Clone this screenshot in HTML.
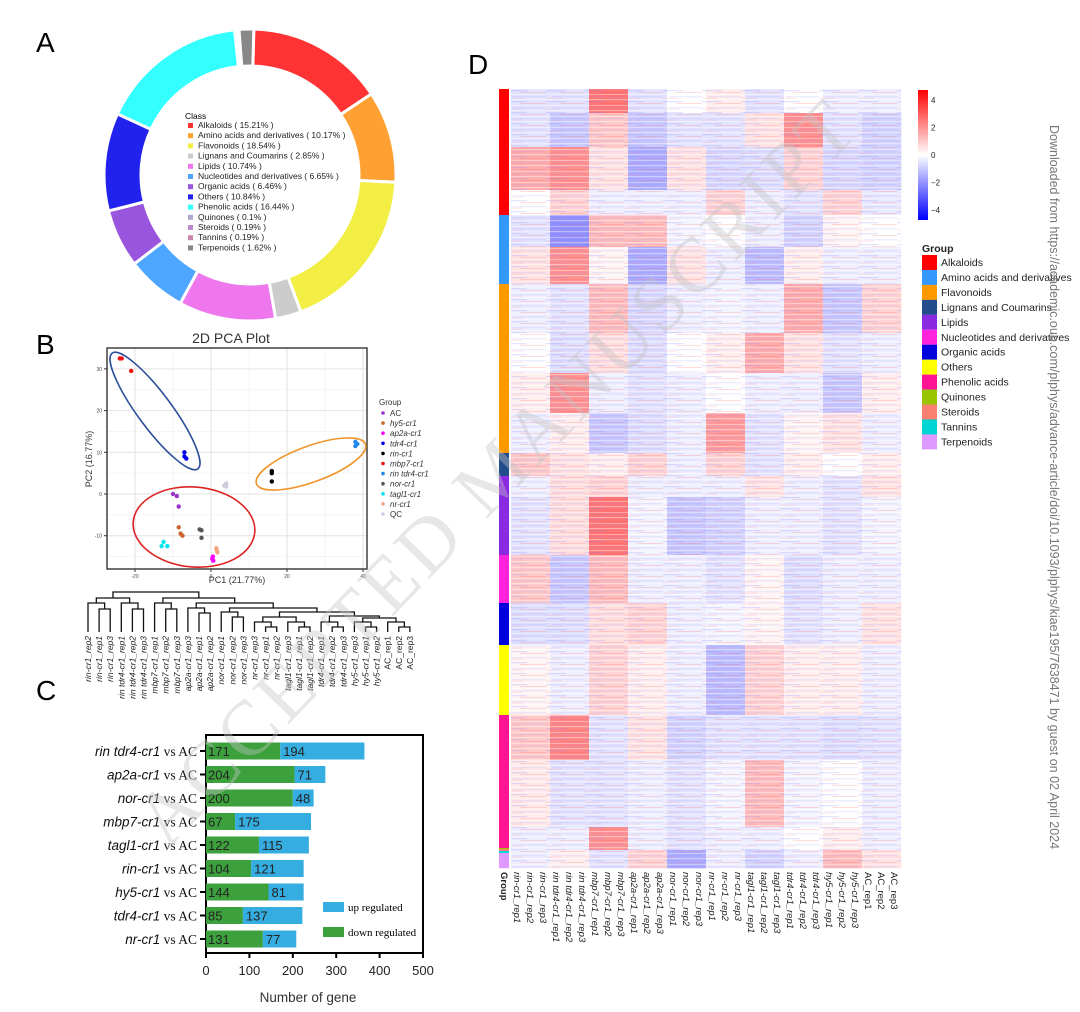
<!DOCTYPE html>
<html><head><meta charset="utf-8"><style>
html,body{margin:0;padding:0;background:#fff;}
svg{display:block;font-family:"Liberation Sans",sans-serif;}
</style></head><body>
<svg id="fig" width="1080" height="1012" viewBox="0 0 1080 1012" xmlns="http://www.w3.org/2000/svg">
<defs>
<pattern id="stripes" width="39" height="11" patternUnits="userSpaceOnUse">
<rect x="0" y="0" width="39" height="1.2" fill="#fff" opacity="0.4"/>
<rect x="0" y="2" width="20" height="1.3" fill="#7777ff" opacity="0.2"/>
<rect x="13" y="4" width="26" height="1" fill="#ff5555" opacity="0.2"/>
<rect x="0" y="6" width="39" height="1" fill="#fff" opacity="0.35"/>
<rect x="6" y="8" width="33" height="1.4" fill="#8888ff" opacity="0.15"/>
<rect x="0" y="9.6" width="16" height="1" fill="#ff7777" opacity="0.18"/>
</pattern>
</defs>
<g id="panelA"></g>
<g id="panelB"></g>
<g id="dendro"></g>
<g id="panelC"></g>
<g id="panelD"></g>
<text x="36" y="52" font-size="28">A</text>
<text x="36" y="354" font-size="28">B</text>
<text x="36" y="700" font-size="28">C</text>
<text x="468" y="74" font-size="28">D</text>
<text transform="translate(1050,125) rotate(90)" font-size="12.5" fill="#777">Downloaded from https://academic.oup.com/plphys/advance-article/doi/10.1093/plphys/kiae195/7638471 by guest on 02 April 2024</text>
<text transform="translate(515,490) rotate(-46)" text-anchor="middle" font-family="Liberation Serif, serif" font-size="78" fill="#c4c4c4" opacity="0.4" letter-spacing="4">ACCEPTED MANUSCRIPT</text>
</svg>
<script>
const NS="http://www.w3.org/2000/svg";
function mk(parent,tag,attrs,text){const e=document.createElementNS(NS,tag);for(const k in attrs)e.setAttribute(k,attrs[k]);if(text!==undefined)e.textContent=text;parent.appendChild(e);return e;}

/* ---------- Panel A data ---------- */
const donutClasses=["Alkaloids","Amino acids and derivatives","Flavonoids","Lignans and Coumarins","Lipids","Nucleotides and derivatives","Organic acids","Others","Phenolic acids","Quinones","Steroids","Tannins","Terpenoids"];
const donutPct=[15.21,10.17,18.54,2.85,10.74,6.65,6.46,10.84,16.44,0.1,0.19,0.19,1.62];
const donutColors=["#ff3333","#ffa033","#f2ee44","#cccccc","#ee77ee","#4da6ff","#9955dd","#2222ee","#33ffff","#aaaacc","#bb88cc","#cc88aa","#888888"];

(function(){
const g=document.getElementById('panelA');
const cx=250,cy=175,R=146,r=109;const total=donutPct.reduce((a,b)=>a+b,0);
let a0=1.5*Math.PI/180;
donutPct.forEach((p,i)=>{
 const a1=a0+p/total*2*Math.PI;
 const pt=(rad,a)=>[cx+rad*Math.sin(a),cy-rad*Math.cos(a)];
 const [x1,y1]=pt(R,a0),[x2,y2]=pt(R,a1),[x3,y3]=pt(r,a1),[x4,y4]=pt(r,a0);
 const lg=(a1-a0)>Math.PI?1:0;
 const s=mk(g,'path',{d:`M${x1},${y1}A${R},${R} 0 ${lg} 1 ${x2},${y2}L${x3},${y3}A${r},${r} 0 ${lg} 0 ${x4},${y4}Z`,fill:donutColors[i],stroke:'#fff','stroke-width':3});
 
 
 a0=a1;
});
const t=mk(g,'text',{x:185,y:119,'font-size':8.5},'Class');


donutClasses.forEach((c,i)=>{
 const y=128+i*10.2;
 const le=mk(g,'g',{});
 
 
 mk(le,'rect',{x:188,y:y-5,width:5,height:5,fill:donutColors[i]});
 mk(le,'text',{x:198,y:y,'font-size':8.5,fill:'#222'},c+' ( '+donutPct[i]+'% )');
});
})();

/* ---------- Panel B PCA data ---------- */
const pcaGroups=["AC","hy5-cr1","ap2a-cr1","tdr4-cr1","rin-cr1","mbp7-cr1","rin tdr4-cr1","nor-cr1","tagl1-cr1","nr-cr1","QC"];
const pcaColors=["#9933cc","#c8642a","#ff00ff","#0000ee","#000000","#ee1111","#2288ee","#555555","#00e5ee","#f4a582","#ccccdd"];
const pcaPC1=[[-10,-9,-8.5],[-8.5,-8,-7.5],[0.5,0.6,0.3],[-7,-7,-6.5],[16,16,16],[-24,-23.5,-21],[38,38,38.5],[-3,-2.5,-2.5],[-12.5,-13,-11.5],[1.5,1.7,1.4],[4,3.5,4]];
const pcaPC2=[[0,-0.5,-3],[-8,-9.5,-10],[-15,-16,-15.5],[10,9,8.5],[5.5,5,3],[32.5,32.5,29.5],[12.5,11.5,12],[-8.5,-8.7,-10.5],[-11.5,-12.5,-12.5],[-13.5,-14,-13],[2.5,2,1.8]];
const pcaXTicks=[-20,0,20,40];
const pcaYTicks=[-10,0,10,20,30];

(function(){
const g=document.getElementById('panelB');
const X=v=>211+v*3.8, Y=v=>494-v*4.17;
const x0=107,x1=367,y0=348,y1=569;
mk(g,'text',{x:231,y:343,'font-size':14,'text-anchor':'middle',fill:'#333'},'2D PCA Plot');
for(let v=-30;v<=45;v+=10){const x=X(v);if(x>x0&&x<x1)mk(g,'line',{x1:x,x2:x,y1:y0,y2:y1,stroke:pcaXTicks.includes(v)?'#e2e2e2':'#efefef','stroke-width':pcaXTicks.includes(v)?1:0.6});}
for(let v=-15;v<=35;v+=5){const y=Y(v);if(y>y0&&y<y1)mk(g,'line',{x1:x0,x2:x1,y1:y,y2:y,stroke:pcaYTicks.includes(v)?'#e2e2e2':'#efefef','stroke-width':pcaYTicks.includes(v)?1:0.6});}
const fr=mk(g,'rect',{x:x0,y:y0,width:x1-x0,height:y1-y0,fill:'none',stroke:'#333','stroke-width':1.4});


pcaXTicks.forEach(v=>{mk(g,'line',{x1:X(v),x2:X(v),y1:y1,y2:y1+3,stroke:'#333'});const t=mk(g,'text',{x:X(v),y:y1+9,'font-size':5,'text-anchor':'middle',fill:'#444'},v);});
pcaYTicks.forEach(v=>{mk(g,'line',{x1:x0-3,x2:x0,y1:Y(v),y2:Y(v),stroke:'#333'});const t=mk(g,'text',{x:x0-5,y:Y(v)+2,'font-size':5,'text-anchor':'end',fill:'#444'},v);});
const xt=mk(g,'text',{x:237,y:583,'font-size':9,'text-anchor':'middle',fill:'#333'},'PC1 (21.77%)');


const yt=mk(g,'text',{transform:'translate(92,459) rotate(-90)','font-size':9,'text-anchor':'middle',fill:'#333'},'PC2 (16.77%)');


const e1=mk(g,'ellipse',{cx:155,cy:411,rx:72,ry:17,transform:'rotate(53.5 155 411)',fill:'none',stroke:'#2b4f9a','stroke-width':1.6});


const e2=mk(g,'ellipse',{cx:194,cy:527,rx:61,ry:40,transform:'rotate(5 194 527)',fill:'none',stroke:'#dd2222','stroke-width':1.6});


const e3=mk(g,'ellipse',{cx:311,cy:464,rx:58,ry:18,transform:'rotate(-20 311 464)',fill:'none',stroke:'#f0952a','stroke-width':1.6});


pcaGroups.forEach((gn,i)=>{
 pcaPC1[i].forEach((v,j)=>{
  const c=mk(g,'circle',{cx:X(v),cy:Y(pcaPC2[i][j]),r:2.2,fill:pcaColors[i]});
  
  
 });
 const le=mk(g,'g',{});
 
 
 const y=413+i*10.1;
 mk(le,'circle',{cx:383,cy:y,r:1.8,fill:pcaColors[i]});
 mk(le,'text',{x:390,y:y+3,'font-size':8,'font-style':(gn==='AC'||gn==='QC')?'normal':'italic',fill:'#333'},gn);
});
mk(g,'text',{x:379,y:405,'font-size':8,fill:'#333'},'Group');
})();

/* ---------- Dendrogram ---------- */
const leafLabels=["rin-cr1_rep2","rin-cr1_rep1","rin-cr1_rep3","rin tdr4-cr1_rep1","rin tdr4-cr1_rep2","rin tdr4-cr1_rep3","mbp7-cr1_rep1","mbp7-cr1_rep2","mbp7-cr1_rep3","ap2a-cr1_rep3","ap2a-cr1_rep1","ap2a-cr1_rep2","nor-cr1_rep1","nor-cr1_rep2","nor-cr1_rep3","nr-cr1_rep3","nr-cr1_rep1","nr-cr1_rep2","tagl1-cr1_rep3","tagl1-cr1_rep1","tagl1-cr1_rep2","tdr4-cr1_rep1","tdr4-cr1_rep2","tdr4-cr1_rep3","hy5-cr1_rep3","hy5-cr1_rep1","hy5-cr1_rep2","AC_rep1","AC_rep2","AC_rep3"];
const P=(a,b,h)=>({c:[a,b],h});
const tree=P(
 P(P(0,P(1,2,23),29),P(3,P(4,5,23),29),34),
 P(P(6,P(7,8,23),29),
  P(P(9,P(10,11,19),24),
   P(P(12,P(13,14,15),20),
    P(P(P(15,P(16,17,5),10),P(18,P(19,20,5),10),15),
      P(P(21,P(22,23,5),10),P(P(24,P(25,26,5),10),P(27,P(28,29,5),10),14),16),20),24),29),34),40);
(function(){
const g=document.getElementById('dendro');
const LX=i=>88+i*11.1, base=632, HY=h=>base-h;
function draw(n){
 if(typeof n==='number')return {x:LX(n),y:base};
 const a=draw(n.c[0]),b=draw(n.c[1]);const y=HY(n.h);
 const p=mk(g,'path',{d:`M${a.x},${a.y}V${y}H${b.x}V${b.y}`,fill:'none',stroke:'#111','stroke-width':1.3});
 
 
 return {x:(a.x+b.x)/2,y};
}
draw(tree);
leafLabels.forEach((l,i)=>{
 const t=mk(g,'text',{transform:`translate(${LX(i)+3},636) rotate(-90)`,'text-anchor':'end','font-size':8.5,'font-style':l.startsWith('AC')?'normal':'italic',fill:'#222'},l);
 
 
});
})();

/* ---------- Panel C data ---------- */
const cmpLabels=["rin tdr4-cr1","ap2a-cr1","nor-cr1","mbp7-cr1","tagl1-cr1","rin-cr1","hy5-cr1","tdr4-cr1","nr-cr1"];
const downVals=[171,204,200,67,122,104,144,85,131];
const upVals=[194,71,48,175,115,121,81,137,77];
const cTicks=[0,100,200,300,400,500];
(function(){
const g=document.getElementById('panelC');
const X=v=>206+v*0.434; const Yc=i=>751+i*23.5;
const ax=mk(g,'rect',{x:206,y:735,width:217,height:218,fill:'none',stroke:'#000','stroke-width':2});


cmpLabels.forEach((l,i)=>{
 const y=Yc(i);
 const d=mk(g,'rect',{x:X(0),y:y-8.5,width:X(downVals[i])-X(0),height:17,fill:'#3ca13c'});
 
 
 const u=mk(g,'rect',{x:X(downVals[i]),y:y-8.5,width:X(downVals[i]+upVals[i])-X(downVals[i]),height:17,fill:'#35ade0'});
 
 
 mk(g,'text',{x:208,y:y+5,'font-size':13,fill:'#222'},downVals[i]);
 mk(g,'text',{x:X(downVals[i])+3,y:y+5,'font-size':13,fill:'#222'},upVals[i]);
 mk(g,'line',{x1:200,x2:206,y1:y,y2:y,stroke:'#000','stroke-width':2});
 const t=mk(g,'text',{x:197,y:y+5,'text-anchor':'end','font-size':13.5,fill:'#111'});
 
 
 mk(t,'tspan',{'font-style':'italic'},l);
 mk(t,'tspan',{'font-family':'Liberation Serif, serif'},' vs AC');
});
cTicks.forEach(v=>{
 mk(g,'line',{x1:X(v),x2:X(v),y1:953,y2:958,stroke:'#000','stroke-width':2});
 const t=mk(g,'text',{x:X(v),y:975,'text-anchor':'middle','font-size':13,fill:'#222'},v);
 
 
});
const xt=mk(g,'text',{x:308,y:1002,'text-anchor':'middle','font-size':13.5,fill:'#333'},'Number of gene');


const l1=mk(g,'g',{});
mk(l1,'rect',{x:323,y:902,width:21,height:10,fill:'#35ade0'});
mk(l1,'text',{x:348,y:911,'font-size':11,'font-family':'Liberation Serif, serif'},'up regulated');
const l2=mk(g,'g',{});
mk(l2,'rect',{x:323,y:927,width:21,height:10,fill:'#3ca13c'});
mk(l2,'text',{x:348,y:936,'font-size':11,'font-family':'Liberation Serif, serif'},'down regulated');
})();

/* ---------- Panel D data ---------- */
const sampleGroups=["rin-cr1","rin tdr4-cr1","mbp7-cr1","ap2a-cr1","nor-cr1","nr-cr1","tagl1-cr1","tdr4-cr1","hy5-cr1","AC"];
const hmClassNames=["Alkaloids","Amino acids and derivatives","Flavonoids","Lignans and Coumarins","Lipids","Nucleotides and derivatives","Organic acids","Others","Phenolic acids","Quinones","Steroids","Tannins","Terpenoids"];
const hmClassColors=["#ff0000","#3399ff","#ff9900","#224c8c","#8a2be2","#ff22dd","#0000dd","#ffff00","#ff1493","#99c400","#fa8072","#00d5d5","#dd99ff"];
const hmClassRows=[126,69,169,23,79,48,42,70,133,1,2,2,15];
const bandRows=[24,34,43,25,32,37,49,40,40,40,23,21,58,48,42,70,45,67,23,18];
const bandVals=[
[-0.5,-0.5,2.5,-0.5,0,0.3,-0.5,0,-0.3,-0.3],
[-0.5,-1,1,-1,-0.5,-0.5,0.5,2,-0.5,-0.8],
[1.5,2,0.5,-1.5,0.5,-0.7,-0.6,0.8,-0.7,-0.8],
[0,0.8,-0.3,-0.3,-0.3,0.8,-0.3,-0.5,0.8,-0.4],
[-0.5,-2,1.2,1.2,-0.2,0,-0.3,-0.8,0.2,0],
[0.5,2,0.2,-1.5,0.5,-0.3,-1.2,0.3,-0.3,-0.3],
[-0.3,-0.5,1.2,-0.7,-0.3,-0.2,-0.3,1.5,-1,0.8],
[0,-0.6,0.6,-0.6,0,0.3,1.5,0.5,-0.5,-0.3],
[0.3,2,-0.3,-0.5,-0.3,0,-0.3,-0.3,-1,0.3],
[-0.3,0.3,-1,-0.6,-0.3,1.8,-0.5,0.2,0.5,-0.3],
[1,0.5,0.3,0.8,-0.3,0.8,-0.5,0.3,0,0.3],
[-0.3,0.6,0.8,-0.3,-0.3,-0.3,0.5,-0.3,-0.5,0.5],
[-0.5,0.6,2.5,-0.2,-1,-0.8,-0.3,-0.3,-0.5,-0.2],
[1,-1,1.2,-0.3,-0.3,-0.5,0.2,-0.6,-0.3,-0.3],
[-0.6,-0.6,0.6,0.8,-0.3,-0.2,0.2,-0.5,-0.3,0.5],
[0.2,-0.3,0.8,0.3,-0.3,-1.2,0.8,0.3,0.3,-0.3],
[1,2.2,-0.5,0.5,-0.8,-0.5,-0.5,-0.5,-0.6,-0.5],
[0.4,-0.5,-0.5,-0.3,-0.5,-0.2,1.2,-0.2,0,-0.3],
[-0.3,-0.3,2,-0.3,-0.5,-0.3,-0.3,0,0.3,-0.3],
[-0.3,0.3,-0.5,0.8,-1.5,-0.3,-0.8,-0.3,1.2,0.5]];
const cbTicks=[4,2,0,-2,-4];
(function(){
const g=document.getElementById('panelD');
const top=89,bot=868,left=511,colW=13,nCols=30;
const totalRows=bandRows.reduce((a,b)=>a+b,0);
const rowH=(bot-top)/totalRows;
const color=v=>{const t=Math.min(1,Math.abs(v)/4.6);const c=Math.round(255*(1-t));return v>=0?`rgb(255,${c},${c})`:`rgb(${c},${c},255)`;};
let y=top;
bandRows.forEach((n,b)=>{
 const h=n*rowH;
 for(let c=0;c<nCols;c++){
  const gi=Math.floor(c/3);
  const r=mk(g,'rect',{x:left+c*colW,y:y,width:colW+0.3,height:h+0.3,fill:color(bandVals[b][gi])});
  
  
 }
 y+=h;
});
const tex=mk(g,'rect',{x:left,y:top,width:nCols*colW,height:bot-top,fill:'url(#stripes)'});


const clsTotal=hmClassRows.reduce((a,b)=>a+b,0);
let yy=top;
hmClassRows.forEach((n,i)=>{
 const h=n/clsTotal*(bot-top);
 const r=mk(g,'rect',{x:499,y:yy,width:10,height:h+0.2,fill:hmClassColors[i]});
 
 
 yy+=h;
});
const gl=mk(g,'text',{transform:'translate(501,872) rotate(90)','font-size':9.5,'font-weight':'bold',fill:'#222'},'Group');


for(let c=0;c<nCols;c++){
 const gn=sampleGroups[Math.floor(c/3)];
 const lab=gn==='AC'?`AC_rep${c%3+1}`:`${gn}_rep${c%3+1}`;
 const t=mk(g,'text',{transform:`translate(${left+c*colW+3},872) rotate(90)`,'font-size':9.5,'font-style':gn==='AC'?'normal':'italic',fill:'#222'},lab);
 
 
}
const lg=mk(document.querySelector('#fig defs'),'linearGradient',{id:'cbgrad',x1:0,y1:0,x2:0,y2:1});
mk(lg,'stop',{offset:'0',  'stop-color':'#ff0000'});
mk(lg,'stop',{offset:'0.5','stop-color':'#ffffff'});
mk(lg,'stop',{offset:'1',  'stop-color':'#0000ff'});
const cb=mk(g,'rect',{x:918,y:90,width:10,height:130,fill:'url(#cbgrad)'});


const CY=v=>155-v*13.75;
cbTicks.forEach(v=>{
 const t=mk(g,'text',{x:931,y:CY(v)+3,'font-size':8,fill:'#222'},v===0?'0':(v<0?'\u2212'+(-v):v));
 
 
});
const gt=mk(g,'text',{x:922,y:252,'font-size':10.5,'font-weight':'bold',fill:'#222'},'Group');


hmClassNames.forEach((n,i)=>{
 const y=255+i*14.95;
 const le=mk(g,'g',{});
 
 
 mk(le,'rect',{x:922,y:y,width:15,height:15,fill:hmClassColors[i]});
 mk(le,'text',{x:941,y:y+11,'font-size':10.5,fill:'#222'},n);
});
})();
</script>
</body></html>
